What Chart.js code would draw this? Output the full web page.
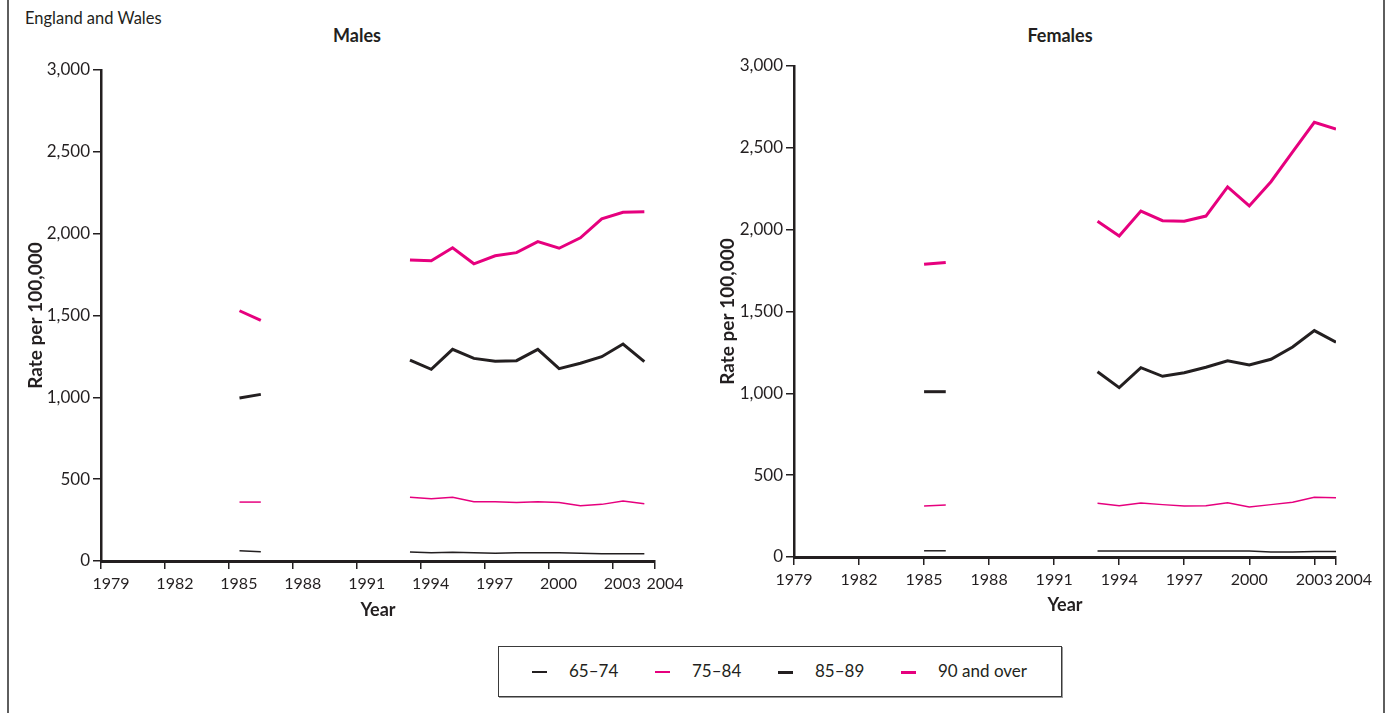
<!DOCTYPE html>
<html>
<head>
<meta charset="utf-8">
<script src="https://cdn.jsdelivr.net/npm/chart.js@4.4.1/dist/chart.umd.min.js"></script>
<style>
  html, body { margin: 0; padding: 0; background: #fff; }
  body { width: 1391px; height: 713px; position: relative; overflow: hidden;
         font-family: Lato, "DejaVu Sans", sans-serif; color: #231f20; }
  .frame { position: absolute; top: 0; bottom: 0; width: 2px; background: #5e5e5e; }
  .note { position: absolute; left: 25px; top: 8px; font-size: 16.5px; line-height: 20px; }
  .panel-title { position: absolute; top: 25px; font-size: 18px; font-weight: bold;
                 line-height: 20px; transform: translateX(-50%); white-space: nowrap; }
  canvas { position: absolute; top: 0; }
  #legend { position: absolute; left: 498px; top: 646px; width: 562px; height: 49px;
            border: 1px solid #3a3a3a; box-shadow: 1px 1px 0 #9a9a9a; background: #fff; }
  .item { position: absolute; top: 0; height: 49px; }
  .swatch { position: absolute; left: 0; width: 15px; }
  .label { position: absolute; left: 37px; top: 14px; font-size: 17px; line-height: 20px; white-space: nowrap; }
</style>
</head>
<body>
<div class="frame" style="left:7px"></div>
<div class="frame" style="left:1383px"></div>
<div class="note">England and Wales</div>
<div class="panel-title" style="left:357px">Males</div>
<div class="panel-title" style="left:1060px">Females</div>
<canvas id="males" width="700" height="640" style="left:0"></canvas>
<canvas id="females" width="701" height="640" style="left:690px"></canvas>
<div id="legend"></div>

<script>
// Rate per 100,000 by age group; survey years 1985-86 and 1993-2004
const years = [1985, 1986, 1993, 1994, 1995, 1996, 1997, 1998, 1999, 2000, 2001, 2002, 2003, 2004];

const males65to74   = [62, 57, 55, 51, 54, 50, 47, 51, 51, 51, 48, 44, 44, 44];
const males75to84   = [360, 360, 389, 381, 389, 362, 362, 358, 362, 358, 338, 346, 367, 350];
const males85to89   = [996, 1018, 1228, 1171, 1293, 1238, 1220, 1224, 1293, 1175, 1208, 1248, 1326, 1218];
const males90plus   = [1529, 1470, 1839, 1835, 1914, 1816, 1865, 1884, 1951, 1911, 1975, 2091, 2131, 2134];

const females65to74 = [38, 38, 36, 36, 36, 36, 36, 36, 36, 36, 31, 31, 34, 34];
const females75to84 = [312, 318, 328, 313, 330, 320, 312, 313, 332, 305, 320, 334, 365, 362];
const females85to89 = [1010, 1010, 1132, 1035, 1157, 1104, 1126, 1159, 1199, 1173, 1208, 1283, 1383, 1312];
const females90plus = [1788, 1800, 2051, 1961, 2114, 2055, 2051, 2083, 2261, 2145, 2293, 2476, 2656, 2615];

const seriesLabels = ['65\u201374', '75\u201384', '85\u201389', '90 and over'];
const yearTickLabels = ['1979', '1982', '1985', '1988', '1991', '1994', '1997', '2000', '2003', '2004'];
const rateTicks = [0, 500, 1000, 1500, 2000, 2500, 3000];

const INK = '#231f20';
const PINK = '#e6007e';
const seriesStyle = [
  { color: INK,  width: 1.5 },
  { color: PINK, width: 1.5 },
  { color: INK,  width: 3 },
  { color: PINK, width: 3 }
];

Chart.defaults.font.family = 'Lato, "DejaVu Sans", sans-serif';
Chart.defaults.color = INK;

function buildDatasets(valueLists) {
  return valueLists.map((vals, i) => ({
    label: seriesLabels[i],
    data: years.map((yr, k) => ({ x: yr, y: vals[k] })),
    borderColor: seriesStyle[i].color,
    borderWidth: seriesStyle[i].width,
    pointRadius: 0,
    tension: 0,
    fill: false,
    // no line across the years without data
    segment: {
      borderColor: ctx => (ctx.p1.parsed.x - ctx.p0.parsed.x > 1 ? 'rgba(0,0,0,0)' : undefined)
    }
  }));
}

// optionally start the last year label at the axis end instead of centring it
const endLabelPlugin = {
  id: 'endLabel',
  beforeDraw(chart, args, opts) {
    if (!opts || !opts.leftAlign) return;
    const sc = chart.scales.x;
    if (!sc || !sc.getLabelItems) return;
    const items = sc.getLabelItems();
    if (!items || !items.length) return;
    const last = items[items.length - 1];
    if (last.options && last.options.translation) {
      last.options.textAlign = 'left';
      last.options.translation[0] = sc.getPixelForTick(items.length - 1) + (opts.shift || 0);
    }
  }
};

function makeChart(id, valueLists, cfg) {
  const tickValues = cfg.tickValues;
  return new Chart(document.getElementById(id), {
    type: 'line',
    data: { datasets: buildDatasets(valueLists) },
    plugins: [endLabelPlugin],
    options: {
      responsive: false,
      animation: false,
      events: [],
      layout: { padding: { left: 0, right: cfg.padRight, top: cfg.top, bottom: 0 } },
      plugins: {
        legend: { display: false },
        tooltip: { enabled: false },
        endLabel: { leftAlign: cfg.endLeft, shift: cfg.endShift }
      },
      scales: {
        x: {
          type: 'linear',
          min: cfg.xMin,
          max: cfg.xMax,
          afterBuildTicks: s => { s.ticks = tickValues.map(v => ({ value: v })); },
          afterFit: s => { s.height = 640 - cfg.bottom; },
          ticks: {
            autoSkip: false,
            maxRotation: 0,
            padding: 5,
            labelOffset: cfg.labelOffset,
            font: { size: 16 },
            color: INK,
            callback: (v, i) => yearTickLabels[i]
          },
          grid: { display: true, drawOnChartArea: false, drawTicks: true, tickLength: 8,
                  color: INK, lineWidth: 1.5 },
          border: { display: true, color: INK, width: 3 },
          title: { display: true, text: 'Year', font: { size: 18, weight: 'bold' },
                   color: INK, padding: { top: 0, bottom: cfg.xTitlePad } }
        },
        y: {
          min: 0,
          max: 3000,
          afterBuildTicks: s => { s.ticks = rateTicks.map(v => ({ value: v })); },
          afterFit: s => { s.width = cfg.yWidth; },
          ticks: {
            padding: 3,
            font: { size: 17 },
            color: INK,
            callback: v => String(v).replace(/\B(?=(\d{3})+(?!\d))/g, ',')
          },
          grid: { display: true, drawOnChartArea: false, drawTicks: true, tickLength: 8,
                  color: INK, lineWidth: 1.5 },
          border: { display: true, color: INK, width: 2.5 },
          title: { display: true, text: 'Rate per 100,000', font: { size: 19, weight: 'bold' },
                   color: INK, padding: { top: cfg.yTitlePad, bottom: 0 } }
        }
      }
    }
  });
}

// Males: each year occupies a band, ticks mark band starts, labels sit mid-band
makeChart('males', [males65to74, males75to84, males85to89, males90plus], {
  xMin: 1978.5, xMax: 2004.5,
  tickValues: yearTickLabels.map((t, i) => (i < yearTickLabels.length - 1 ? +t - 0.5 : +t + 0.5)),
  labelOffset: 10, endLeft: false, endShift: 0,
  top: 70, bottom: 561, padRight: 45, yWidth: 101,
  xTitlePad: 19, yTitlePad: 24
});

// Females: ticks on the years themselves
makeChart('females', [females65to74, females75to84, females85to89, females90plus], {
  xMin: 1979, xMax: 2004,
  tickValues: yearTickLabels.map(t => +t),
  labelOffset: 0, endLeft: true, endShift: -1,
  top: 66, bottom: 557, padRight: 55, yWidth: 104,
  xTitlePad: 24, yTitlePad: 26
});

// Legend
const legend = document.getElementById('legend');
seriesLabels.forEach((name, i) => {
  const item = document.createElement('div');
  item.className = 'item';
  item.style.left = (33 + i * 123) + 'px';
  const sw = document.createElement('div');
  sw.className = 'swatch';
  sw.style.height = seriesStyle[i].width + 'px';
  sw.style.top = (25 - seriesStyle[i].width / 2) + 'px';
  sw.style.background = seriesStyle[i].color;
  const lb = document.createElement('div');
  lb.className = 'label';
  lb.textContent = name;
  item.appendChild(sw);
  item.appendChild(lb);
  legend.appendChild(item);
});
</script>
</body>
</html>
